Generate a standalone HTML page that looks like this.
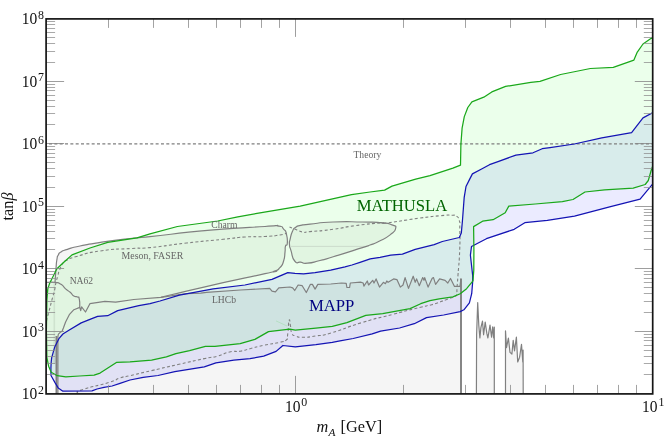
<!DOCTYPE html><html><head><meta charset="utf-8"><title>plot</title>
<style>html,body{margin:0;padding:0;background:#fff}svg{display:block;will-change:transform}text{font-family:"Liberation Serif",serif}</style></head><body>
<svg width="664" height="437" viewBox="0 0 664 437">
<rect width="664" height="437" fill="#fff"/>
<defs><clipPath id="c"><rect x="46.1" y="18.9" width="606.6" height="375.0"/></clipPath></defs>
<g clip-path="url(#c)" fill="none" stroke-linejoin="round" stroke-linecap="butt">
<path d="M57.0,394.0 L57.0,364.0 L46.1,364.0 L46.1,282.4 L55.0,282.4 L56.0,268.7 L56.9,259.6 L58.3,255.0 L61.0,252.0 L67.4,249.4 L80.0,246.0 L100.4,242.4 L130.0,238.5 L150.0,236.6 L210.4,230.2 L265.0,226.5 L278.4,226.1 L283.6,229.1 L286.5,234.3 L287.3,243.2 L285.5,246.2 L285.0,252.1 L283.6,261.0 L279.9,267.7 L273.9,271.4 L265.0,273.7 L205.0,286.8 L160.9,297.3 L186.2,293.7 L200.7,293.1 L206.5,292.3 L240.4,290.0 L269.7,288.4 L272.0,291.1 L275.4,291.8 L278.8,287.8 L290.0,287.0 L292.7,287.8 L294.7,290.5 L298.1,285.0 L302.2,285.7 L306.3,292.5 L310.3,284.4 L312.4,284.4 L315.1,289.1 L317.8,284.4 L330.7,284.0 L341.5,283.0 L346.2,283.4 L346.9,287.5 L349.6,287.5 L350.3,283.0 L360.5,282.1 L363.2,283.0 L363.9,286.1 L367.3,281.0 L368.6,285.0 L372.7,280.3 L374.0,283.0 L376.1,278.9 L379.5,287.1 L383.4,282.3 L385.4,283.7 L386.8,281.0 L388.1,282.3 L393.6,278.9 L396.9,279.6 L400.3,287.1 L403.0,285.0 L405.1,277.6 L408.5,288.4 L413.2,276.2 L415.2,282.3 L416.6,278.9 L419.3,285.7 L422.7,277.6 L424.0,280.3 L424.7,277.6 L428.1,287.1 L432.2,278.3 L433.5,277.6 L435.6,284.4 L439.6,278.9 L445.1,280.3 L447.8,283.0 L450.5,278.5 L454.5,286.4 L460.0,286.4 L460.9,278.9 L461.0,394.0 Z" fill="rgba(128,128,128,0.08)"/>
<path d="M289.5,244.7 C289.2,240.8 289.2,243.3 290.2,238.8 C291.2,234.3 290.8,235.0 292.5,231.3 C294.2,227.6 292.7,229.6 295.4,227.6 C298.1,225.6 295.7,226.5 300.6,225.4 C305.5,224.3 299.1,225.3 310.0,224.2 C320.9,223.1 315.7,222.7 333.2,222.0 C350.7,221.3 346.5,221.8 362.4,222.0 C378.3,222.2 371.1,221.7 381.0,222.7 C390.9,223.7 387.1,223.0 392.0,224.9 C396.9,226.8 396.2,225.2 395.6,228.5 C395.0,231.8 395.6,230.6 390.1,234.9 C384.6,239.2 385.8,237.9 379.1,241.3 C372.4,244.7 375.6,242.9 370.0,245.0 C364.4,247.1 374.7,243.7 362.4,247.6 C350.1,251.5 347.3,252.5 333.2,256.8 C319.1,261.1 328.5,258.4 320.0,260.5 C311.5,262.6 314.1,262.6 307.6,263.2 C301.1,263.8 304.9,262.9 300.6,262.2 C296.3,261.5 297.9,264.9 294.7,261.0 C291.5,257.1 292.7,256.0 291.0,250.6 C289.3,245.2 289.8,248.6 289.5,244.7 Z" fill="rgba(128,128,128,0.08)"/>
<path d="M476.4,394.0 L476.6,335.0 L477.7,302.5 L478.8,325.2 L479.9,338.0 L480.9,327.6 L482.5,321.2 L483.6,334.8 L485.2,322.0 L486.8,333.2 L487.9,338.0 L490.0,325.2 L491.6,337.2 L492.7,326.8 L493.7,338.0 L494.3,327.0 L494.3,394.0 Z" fill="rgba(128,128,128,0.08)"/>
<path d="M505.5,394.0 L505.5,330.8 L506.5,347.6 L508.4,338.0 L510.0,352.4 L511.9,354.0 L513.2,340.4 L514.5,350.8 L516.4,337.2 L517.7,362.0 L519.6,357.2 L521.5,344.4 L522.8,362.0 L523.1,350.0 L523.2,394.0 Z" fill="rgba(128,128,128,0.08)"/>
<path d="M51.2,362.0 L51.7,357.6 L54.6,347.3 L58.9,338.7 L62.9,334.0 L69.3,330.0 L81.2,322.9 L91.2,318.8 L97.6,316.3 L107.7,315.7 L117.7,310.6 L138.8,305.7 L150.0,303.6 L160.0,301.0 L179.4,295.2 L213.2,288.9 L244.9,285.0 L272.0,279.4 L287.8,272.6 L295.0,273.4 L303.6,273.9 L315.0,272.7 L330.7,270.1 L345.0,266.9 L351.9,265.0 L360.0,262.3 L370.2,258.9 L380.0,257.3 L390.8,255.1 L402.4,254.1 L415.2,249.4 L434.2,244.7 L442.3,241.5 L459.3,237.5 L461.3,233.1 L462.4,221.2 L464.2,197.4 L466.0,186.5 L469.7,179.1 L472.4,173.9 L481.6,169.0 L489.5,164.7 L498.7,161.3 L515.9,155.1 L533.0,152.8 L542.2,148.7 L550.0,147.6 L574.3,144.0 L601.8,137.8 L631.6,132.7 L643.0,117.9 L653.0,112.5 L653.0,183.6 L640.1,199.2 L610.6,206.7 L574.5,216.1 L547.3,220.3 L524.8,222.7 L514.2,229.3 L486.4,238.7 L471.5,246.5 L470.4,255.2 L472.7,275.8 L472.6,282.7 L471.7,293.7 L469.4,302.9 L463.9,309.8 L460.2,311.6 L443.7,315.0 L426.5,317.6 L414.3,323.7 L399.6,328.0 L380.6,331.1 L372.2,333.9 L353.2,338.5 L340.0,340.9 L332.3,342.3 L315.9,344.6 L295.3,346.9 L282.9,345.5 L276.1,351.4 L263.7,356.2 L250.0,358.7 L233.9,360.1 L215.9,362.8 L204.3,366.8 L174.8,371.7 L158.0,375.5 L143.2,377.3 L130.0,380.0 L120.0,383.3 L112.1,386.0 L104.0,387.3 L97.0,389.0 L92.0,390.9 L62.9,391.2 L58.2,387.9 L55.0,382.6 L51.0,375.5 L50.9,367.9 L51.2,362.0 Z" fill="rgba(0,0,255,0.08)"/>
<path d="M46.9,357.6 L46.4,330.0 L46.9,300.0 L47.8,288.9 L49.6,283.4 L52.8,277.0 L56.9,268.7 L63.8,262.3 L72.0,254.9 L90.0,248.0 L107.7,242.4 L137.0,237.9 L150.0,233.8 L177.4,226.5 L217.7,221.0 L237.8,216.8 L260.0,212.9 L300.2,206.1 L351.5,194.6 L370.0,192.0 L384.6,190.1 L392.0,186.1 L415.7,179.1 L430.0,175.7 L452.9,168.2 L460.5,165.2 L460.9,144.1 L462.1,128.1 L464.3,116.6 L467.8,107.5 L471.9,101.8 L483.8,97.2 L491.8,91.9 L505.6,86.4 L530.8,82.3 L540.0,81.4 L560.6,74.5 L590.4,68.5 L613.3,67.4 L633.9,60.1 L637.3,52.1 L643.0,44.0 L653.0,37.0 L653.0,165.3 L651.3,170.0 L648.3,180.5 L645.2,184.5 L633.2,188.1 L604.6,189.9 L585.0,192.0 L573.0,199.5 L562.4,201.6 L535.3,204.0 L508.8,206.1 L505.2,212.8 L493.1,219.7 L482.6,221.2 L473.6,226.6 L473.9,250.0 L473.8,270.0 L473.0,280.9 L466.6,288.7 L460.2,293.7 L452.9,296.9 L439.2,298.8 L430.0,300.6 L420.7,303.7 L410.1,308.6 L382.7,313.6 L365.8,315.3 L346.9,322.7 L332.3,326.3 L315.9,328.1 L295.3,330.2 L289.8,329.1 L268.5,331.6 L254.9,339.4 L240.2,343.6 L214.9,346.4 L205.4,346.4 L189.6,350.6 L175.9,353.7 L166.4,356.9 L151.6,360.1 L130.0,361.9 L116.4,362.4 L100.1,373.1 L94.1,375.2 L79.5,376.0 L65.8,376.9 L57.2,375.7 L51.2,372.2 L48.6,366.2 L46.9,357.6 Z" fill="rgba(0,255,0,0.08)"/>
<path d="M54.3,283 L54.3,364" stroke="rgba(90,110,90,0.13)" stroke-width="1.6"/>
<path d="M291,246.4 L367,246.4" stroke="rgba(120,120,120,0.25)" stroke-width="0.8"/>
<path d="M276,320.9 L287,326" stroke="rgba(60,200,60,0.22)" stroke-width="0.8"/>
<path d="M46.1,143.9 L652.8,143.9" stroke="#7f7f7f" stroke-width="1.3" stroke-dasharray="3 2.33" stroke-dashoffset="2.4"/>
<path d="M57.9,394.0 L57.9,336.5 L58.4,334.2 L60.0,332.6 L62.1,331.2 L63.4,328.0 L65.6,322.0 L69.3,314.7 L73.9,309.7 L79.8,307.4 L80.7,310.6 L81.6,306.9 L85.5,312.0 L89.9,303.7 L104.9,301.3 L115.7,302.2 L133.8,299.5 L160.9,297.3 L186.2,293.7 L200.7,293.1 L206.5,292.3 L240.4,290.0 L269.7,288.4 L272.0,291.1 L275.4,291.8 L278.8,287.8 L290.0,287.0 L292.7,287.8 L294.7,290.5 L298.1,285.0 L302.2,285.7 L306.3,292.5 L310.3,284.4 L312.4,284.4 L315.1,289.1 L317.8,284.4 L330.7,284.0 L341.5,283.0 L346.2,283.4 L346.9,287.5 L349.6,287.5 L350.3,283.0 L360.5,282.1 L363.2,283.0 L363.9,286.1 L367.3,281.0 L368.6,285.0 L372.7,280.3 L374.0,283.0 L376.1,278.9 L379.5,287.1 L383.4,282.3 L385.4,283.7 L386.8,281.0 L388.1,282.3 L393.6,278.9 L396.9,279.6 L400.3,287.1 L403.0,285.0 L405.1,277.6 L408.5,288.4 L413.2,276.2 L415.2,282.3 L416.6,278.9 L419.3,285.7 L422.7,277.6 L424.0,280.3 L424.7,277.6 L428.1,287.1 L432.2,278.3 L433.5,277.6 L435.6,284.4 L439.6,278.9 L445.1,280.3 L447.8,283.0 L450.5,278.5 L454.5,286.4 L460.0,286.4 L460.9,278.9" stroke="#808080" stroke-width="1.2"/>
<path d="M476.4,394.0 L476.6,335.0 L477.7,302.5 L478.8,325.2 L479.9,338.0 L480.9,327.6 L482.5,321.2 L483.6,334.8 L485.2,322.0 L486.8,333.2 L487.9,338.0 L490.0,325.2 L491.6,337.2 L492.7,326.8 L493.7,338.0 L494.3,327.0 L494.3,394.0" stroke="#808080" stroke-width="1.2"/>
<path d="M505.5,394.0 L505.5,330.8 L506.5,347.6 L508.4,338.0 L510.0,352.4 L511.9,354.0 L513.2,340.4 L514.5,350.8 L516.4,337.2 L517.7,362.0 L519.6,357.2 L521.5,344.4 L522.8,362.0 L523.1,350.0 L523.2,394.0" stroke="#808080" stroke-width="1.2"/>
<path d="M55.0,282.4 C55.3,277.8 55.4,276.3 56.0,268.7 C56.6,261.1 56.1,264.2 56.9,259.6 C57.7,255.0 56.9,257.5 58.3,255.0 C59.7,252.5 58.0,253.9 61.0,252.0 C64.0,250.1 61.1,251.4 67.4,249.4 C73.7,247.4 69.0,248.3 80.0,246.0 C91.0,243.7 83.7,244.9 100.4,242.4 C117.1,239.9 113.5,240.4 130.0,238.5 C146.5,236.6 123.2,239.4 150.0,236.6 C176.8,233.8 172.1,233.6 210.4,230.2 C248.7,226.8 242.3,227.9 265.0,226.5 C287.7,225.1 272.2,225.2 278.4,226.1 C284.6,227.0 280.9,226.4 283.6,229.1 C286.3,231.8 285.3,229.6 286.5,234.3 C287.7,239.0 287.6,239.2 287.3,243.2 C287.0,247.2 286.3,243.2 285.5,246.2 C284.7,249.2 285.6,247.2 285.0,252.1 C284.4,257.0 285.3,255.8 283.6,261.0 C281.9,266.2 283.1,264.2 279.9,267.7 C276.7,271.2 278.9,269.4 273.9,271.4 C268.9,273.4 288.0,268.6 265.0,273.7 C242.0,278.8 239.7,278.9 205.0,286.8 C170.3,294.7 175.6,293.8 160.9,297.3" stroke="#808080" stroke-width="1.2"/>
<path d="M46.9,282.4 C49.6,282.4 50.3,281.8 55.0,282.4 C59.7,283.0 57.5,282.1 61.0,284.3 C64.5,286.5 62.5,286.2 65.6,288.9 C68.7,291.6 67.4,289.9 70.2,292.3 C73.0,294.7 71.5,294.5 73.9,296.0 C76.3,297.5 75.7,295.9 77.5,296.9 C79.3,297.9 78.5,295.6 79.3,299.1 C80.1,302.6 79.6,304.6 79.8,307.4" stroke="#808080" stroke-width="1.2"/>
<path d="M289.5,244.7 C289.2,240.8 289.2,243.3 290.2,238.8 C291.2,234.3 290.8,235.0 292.5,231.3 C294.2,227.6 292.7,229.6 295.4,227.6 C298.1,225.6 295.7,226.5 300.6,225.4 C305.5,224.3 299.1,225.3 310.0,224.2 C320.9,223.1 315.7,222.7 333.2,222.0 C350.7,221.3 346.5,221.8 362.4,222.0 C378.3,222.2 371.1,221.7 381.0,222.7 C390.9,223.7 387.1,223.0 392.0,224.9 C396.9,226.8 396.2,225.2 395.6,228.5 C395.0,231.8 395.6,230.6 390.1,234.9 C384.6,239.2 385.8,237.9 379.1,241.3 C372.4,244.7 375.6,242.9 370.0,245.0 C364.4,247.1 374.7,243.7 362.4,247.6 C350.1,251.5 347.3,252.5 333.2,256.8 C319.1,261.1 328.5,258.4 320.0,260.5 C311.5,262.6 314.1,262.6 307.6,263.2 C301.1,263.8 304.9,262.9 300.6,262.2 C296.3,261.5 297.9,264.9 294.7,261.0 C291.5,257.1 292.7,256.0 291.0,250.6 C289.3,245.2 289.8,248.6 289.5,244.7 Z" stroke="#808080" stroke-width="1.2"/>
<path d="M56.4,336 L56.4,394" stroke="#808080" stroke-width="1.8"/>
<path d="M461,278.5 L461,394" stroke="#808080" stroke-width="1.9"/>
<path d="M46.5,321.0 C46.8,319.8 46.4,320.7 47.3,317.4 C48.2,314.1 47.6,316.8 49.1,311.0 C50.6,305.2 50.1,307.0 51.9,300.0 C53.7,293.0 53.2,295.9 54.6,290.0 C56.0,284.1 54.9,287.1 56.0,282.4 C57.1,277.7 56.6,280.3 57.8,276.0 C59.0,271.7 57.7,274.3 59.7,269.6 C61.7,264.9 61.2,265.2 63.8,262.0 C66.4,258.8 63.1,261.8 67.4,260.0 C71.7,258.2 65.7,259.5 76.6,256.5 C87.5,253.5 81.7,253.7 100.0,251.0 C118.3,248.3 114.8,249.6 131.5,248.5 C148.2,247.4 131.6,249.4 150.0,247.6 C168.4,245.8 162.2,245.8 186.6,243.0 C211.0,240.2 203.7,241.3 223.2,239.3 C242.7,237.3 231.1,237.9 245.0,237.0 C258.9,236.1 253.4,237.2 265.0,236.5 C276.6,235.8 272.7,236.1 279.9,235.0 C287.1,233.9 284.3,233.7 286.5,233.1" stroke="#808080" stroke-width="1.1" stroke-dasharray="3 2.3"/>
<path d="M289.5,226.9 C290.7,227.4 290.7,227.4 293.2,228.4 C295.7,229.4 293.4,228.7 296.9,229.9 C300.4,231.1 299.2,231.5 303.6,232.1 C308.0,232.7 300.1,232.5 310.0,231.6 C319.9,230.7 318.2,231.3 333.2,229.3 C348.2,227.3 339.4,227.8 355.0,225.7 C370.6,223.6 369.5,223.9 380.0,223.0 C390.5,222.1 373.4,224.6 386.5,223.0 C399.6,221.4 401.3,220.6 419.2,218.2 C437.1,215.8 429.4,216.7 440.3,215.7 C451.2,214.7 446.6,215.1 451.9,215.2 C457.2,215.3 453.6,214.2 456.1,216.0 C458.6,217.8 458.1,216.2 459.3,220.6 C460.5,225.0 459.7,219.3 459.8,229.1 C459.9,238.9 460.3,234.7 459.7,250.0 C459.1,265.3 458.9,262.3 458.0,275.0 C457.1,287.7 457.4,281.8 457.0,288.0 C456.6,294.2 457.5,290.7 456.7,293.5 C455.9,296.3 457.8,294.6 454.7,296.5 C451.6,298.4 455.0,296.5 447.4,299.2 C439.8,301.9 440.7,302.0 431.8,304.7 C422.9,307.4 433.5,304.0 420.7,307.2 C407.9,310.4 413.0,309.0 393.3,314.2 C373.6,319.4 382.4,316.4 361.6,322.7 C340.8,329.0 346.2,328.6 331.0,333.0 C315.8,337.4 325.1,334.5 315.9,335.9 C306.7,337.3 310.4,337.3 303.5,337.3 C296.6,337.3 299.2,337.4 295.3,335.9 C291.4,334.4 293.4,336.2 291.8,332.9 C290.2,329.6 291.4,330.1 290.5,326.0 C289.6,321.9 290.0,317.8 289.1,320.6 C288.2,323.4 288.6,327.9 287.7,334.3 C286.8,340.7 289.4,337.1 286.4,339.8 C283.4,342.5 286.4,340.7 278.8,342.5 C271.2,344.3 273.3,343.2 263.7,345.3 C254.1,347.4 257.8,346.7 250.0,348.7 C242.2,350.7 247.0,350.1 240.2,351.2 C233.4,352.3 237.3,350.3 229.6,352.0 C221.9,353.7 225.4,354.1 217.0,356.3 C208.6,358.5 217.0,355.9 204.3,358.6 C191.6,361.3 196.6,360.3 179.0,364.3 C161.4,368.3 167.9,366.8 151.6,370.6 C135.3,374.4 140.5,373.2 130.0,375.7 C119.5,378.2 127.1,375.7 120.0,378.0 C112.9,380.3 121.0,378.7 108.7,382.5 C96.4,386.3 93.6,386.0 83.0,389.4 C72.4,392.8 79.7,391.3 77.0,392.8 C74.3,394.3 75.7,393.6 75.0,394.0" stroke="#808080" stroke-width="1.1" stroke-dasharray="3 2.3"/>
<path d="M51.2,362.0 L51.7,357.6 L54.6,347.3 L58.9,338.7 L62.9,334.0 L69.3,330.0 L81.2,322.9 L91.2,318.8 L97.6,316.3 L107.7,315.7 L117.7,310.6 L138.8,305.7 L150.0,303.6 L160.0,301.0 L179.4,295.2 L213.2,288.9 L244.9,285.0 L272.0,279.4 L287.8,272.6 L295.0,273.4 L303.6,273.9 L315.0,272.7 L330.7,270.1 L345.0,266.9 L351.9,265.0 L360.0,262.3 L370.2,258.9 L380.0,257.3 L390.8,255.1 L402.4,254.1 L415.2,249.4 L434.2,244.7 L442.3,241.5 L459.3,237.5 L461.3,233.1 L462.4,221.2 L464.2,197.4 L466.0,186.5 L469.7,179.1 L472.4,173.9 L481.6,169.0 L489.5,164.7 L498.7,161.3 L515.9,155.1 L533.0,152.8 L542.2,148.7 L550.0,147.6 L574.3,144.0 L601.8,137.8 L631.6,132.7 L643.0,117.9 L653.0,112.5 L653.0,183.6 L640.1,199.2 L610.6,206.7 L574.5,216.1 L547.3,220.3 L524.8,222.7 L514.2,229.3 L486.4,238.7 L471.5,246.5 L470.4,255.2 L472.7,275.8 L472.6,282.7 L471.7,293.7 L469.4,302.9 L463.9,309.8 L460.2,311.6 L443.7,315.0 L426.5,317.6 L414.3,323.7 L399.6,328.0 L380.6,331.1 L372.2,333.9 L353.2,338.5 L340.0,340.9 L332.3,342.3 L315.9,344.6 L295.3,346.9 L282.9,345.5 L276.1,351.4 L263.7,356.2 L250.0,358.7 L233.9,360.1 L215.9,362.8 L204.3,366.8 L174.8,371.7 L158.0,375.5 L143.2,377.3 L130.0,380.0 L120.0,383.3 L112.1,386.0 L104.0,387.3 L97.0,389.0 L92.0,390.9 L62.9,391.2 L58.2,387.9 L55.0,382.6 L51.0,375.5 L50.9,367.9 L51.2,362.0 Z" stroke="#1414b4" stroke-width="1.25"/>
<path d="M46.9,357.6 L46.4,330.0 L46.9,300.0 L47.8,288.9 L49.6,283.4 L52.8,277.0 L56.9,268.7 L63.8,262.3 L72.0,254.9 L90.0,248.0 L107.7,242.4 L137.0,237.9 L150.0,233.8 L177.4,226.5 L217.7,221.0 L237.8,216.8 L260.0,212.9 L300.2,206.1 L351.5,194.6 L370.0,192.0 L384.6,190.1 L392.0,186.1 L415.7,179.1 L430.0,175.7 L452.9,168.2 L460.5,165.2 L460.9,144.1 L462.1,128.1 L464.3,116.6 L467.8,107.5 L471.9,101.8 L483.8,97.2 L491.8,91.9 L505.6,86.4 L530.8,82.3 L540.0,81.4 L560.6,74.5 L590.4,68.5 L613.3,67.4 L633.9,60.1 L637.3,52.1 L643.0,44.0 L653.0,37.0 L653.0,165.3 L651.3,170.0 L648.3,180.5 L645.2,184.5 L633.2,188.1 L604.6,189.9 L585.0,192.0 L573.0,199.5 L562.4,201.6 L535.3,204.0 L508.8,206.1 L505.2,212.8 L493.1,219.7 L482.6,221.2 L473.6,226.6 L473.9,250.0 L473.8,270.0 L473.0,280.9 L466.6,288.7 L460.2,293.7 L452.9,296.9 L439.2,298.8 L430.0,300.6 L420.7,303.7 L410.1,308.6 L382.7,313.6 L365.8,315.3 L346.9,322.7 L332.3,326.3 L315.9,328.1 L295.3,330.2 L289.8,329.1 L268.5,331.6 L254.9,339.4 L240.2,343.6 L214.9,346.4 L205.4,346.4 L189.6,350.6 L175.9,353.7 L166.4,356.9 L151.6,360.1 L130.0,361.9 L116.4,362.4 L100.1,373.1 L94.1,375.2 L79.5,376.0 L65.8,376.9 L57.2,375.7 L51.2,372.2 L48.6,366.2 L46.9,357.6 Z" stroke="#1aa81a" stroke-width="1.25"/>
</g>
<path d="M46.1,374.5 h9 M652.8,374.5 h-9" stroke="#8c8c8c" stroke-width="0.75"/>
<path d="M46.1,363.5 h9 M652.8,363.5 h-9" stroke="#8c8c8c" stroke-width="0.75"/>
<path d="M46.1,356.5 h9 M652.8,356.5 h-9" stroke="#8c8c8c" stroke-width="0.75"/>
<path d="M46.1,350.5 h9 M652.8,350.5 h-9" stroke="#8c8c8c" stroke-width="0.75"/>
<path d="M46.1,345.5 h9 M652.8,345.5 h-9" stroke="#8c8c8c" stroke-width="0.75"/>
<path d="M46.1,340.5 h9 M652.8,340.5 h-9" stroke="#8c8c8c" stroke-width="0.75"/>
<path d="M46.1,337.5 h9 M652.8,337.5 h-9" stroke="#8c8c8c" stroke-width="0.75"/>
<path d="M46.1,334.5 h9 M652.8,334.5 h-9" stroke="#8c8c8c" stroke-width="0.75"/>
<path d="M46.1,331.5 h18 M652.8,331.5 h-18" stroke="#858585" stroke-width="0.8"/>
<path d="M46.1,312.5 h9 M652.8,312.5 h-9" stroke="#8c8c8c" stroke-width="0.75"/>
<path d="M46.1,301.5 h9 M652.8,301.5 h-9" stroke="#8c8c8c" stroke-width="0.75"/>
<path d="M46.1,293.5 h9 M652.8,293.5 h-9" stroke="#8c8c8c" stroke-width="0.75"/>
<path d="M46.1,287.5 h9 M652.8,287.5 h-9" stroke="#8c8c8c" stroke-width="0.75"/>
<path d="M46.1,282.5 h9 M652.8,282.5 h-9" stroke="#8c8c8c" stroke-width="0.75"/>
<path d="M46.1,278.5 h9 M652.8,278.5 h-9" stroke="#8c8c8c" stroke-width="0.75"/>
<path d="M46.1,274.5 h9 M652.8,274.5 h-9" stroke="#8c8c8c" stroke-width="0.75"/>
<path d="M46.1,271.5 h9 M652.8,271.5 h-9" stroke="#8c8c8c" stroke-width="0.75"/>
<path d="M46.1,268.5 h18 M652.8,268.5 h-18" stroke="#858585" stroke-width="0.8"/>
<path d="M46.1,249.5 h9 M652.8,249.5 h-9" stroke="#8c8c8c" stroke-width="0.75"/>
<path d="M46.1,238.5 h9 M652.8,238.5 h-9" stroke="#8c8c8c" stroke-width="0.75"/>
<path d="M46.1,231.5 h9 M652.8,231.5 h-9" stroke="#8c8c8c" stroke-width="0.75"/>
<path d="M46.1,225.5 h9 M652.8,225.5 h-9" stroke="#8c8c8c" stroke-width="0.75"/>
<path d="M46.1,220.5 h9 M652.8,220.5 h-9" stroke="#8c8c8c" stroke-width="0.75"/>
<path d="M46.1,215.5 h9 M652.8,215.5 h-9" stroke="#8c8c8c" stroke-width="0.75"/>
<path d="M46.1,212.5 h9 M652.8,212.5 h-9" stroke="#8c8c8c" stroke-width="0.75"/>
<path d="M46.1,209.5 h9 M652.8,209.5 h-9" stroke="#8c8c8c" stroke-width="0.75"/>
<path d="M46.1,206.5 h18 M652.8,206.5 h-18" stroke="#858585" stroke-width="0.8"/>
<path d="M46.1,187.5 h9 M652.8,187.5 h-9" stroke="#8c8c8c" stroke-width="0.75"/>
<path d="M46.1,176.5 h9 M652.8,176.5 h-9" stroke="#8c8c8c" stroke-width="0.75"/>
<path d="M46.1,168.5 h9 M652.8,168.5 h-9" stroke="#8c8c8c" stroke-width="0.75"/>
<path d="M46.1,162.5 h9 M652.8,162.5 h-9" stroke="#8c8c8c" stroke-width="0.75"/>
<path d="M46.1,157.5 h9 M652.8,157.5 h-9" stroke="#8c8c8c" stroke-width="0.75"/>
<path d="M46.1,153.5 h9 M652.8,153.5 h-9" stroke="#8c8c8c" stroke-width="0.75"/>
<path d="M46.1,149.5 h9 M652.8,149.5 h-9" stroke="#8c8c8c" stroke-width="0.75"/>
<path d="M46.1,146.5 h9 M652.8,146.5 h-9" stroke="#8c8c8c" stroke-width="0.75"/>
<path d="M46.1,143.5 h18 M652.8,143.5 h-18" stroke="#858585" stroke-width="0.8"/>
<path d="M46.1,124.5 h9 M652.8,124.5 h-9" stroke="#8c8c8c" stroke-width="0.75"/>
<path d="M46.1,113.5 h9 M652.8,113.5 h-9" stroke="#8c8c8c" stroke-width="0.75"/>
<path d="M46.1,106.5 h9 M652.8,106.5 h-9" stroke="#8c8c8c" stroke-width="0.75"/>
<path d="M46.1,100.5 h9 M652.8,100.5 h-9" stroke="#8c8c8c" stroke-width="0.75"/>
<path d="M46.1,95.5 h9 M652.8,95.5 h-9" stroke="#8c8c8c" stroke-width="0.75"/>
<path d="M46.1,90.5 h9 M652.8,90.5 h-9" stroke="#8c8c8c" stroke-width="0.75"/>
<path d="M46.1,87.5 h9 M652.8,87.5 h-9" stroke="#8c8c8c" stroke-width="0.75"/>
<path d="M46.1,84.5 h9 M652.8,84.5 h-9" stroke="#8c8c8c" stroke-width="0.75"/>
<path d="M46.1,81.5 h18 M652.8,81.5 h-18" stroke="#858585" stroke-width="0.8"/>
<path d="M46.1,62.5 h9 M652.8,62.5 h-9" stroke="#8c8c8c" stroke-width="0.75"/>
<path d="M46.1,51.5 h9 M652.8,51.5 h-9" stroke="#8c8c8c" stroke-width="0.75"/>
<path d="M46.1,43.5 h9 M652.8,43.5 h-9" stroke="#8c8c8c" stroke-width="0.75"/>
<path d="M46.1,37.5 h9 M652.8,37.5 h-9" stroke="#8c8c8c" stroke-width="0.75"/>
<path d="M46.1,32.5 h9 M652.8,32.5 h-9" stroke="#8c8c8c" stroke-width="0.75"/>
<path d="M46.1,28.5 h9 M652.8,28.5 h-9" stroke="#8c8c8c" stroke-width="0.75"/>
<path d="M46.1,24.5 h9 M652.8,24.5 h-9" stroke="#8c8c8c" stroke-width="0.75"/>
<path d="M46.1,21.5 h9 M652.8,21.5 h-9" stroke="#8c8c8c" stroke-width="0.75"/>
<path d="M108.5,18.9 v9 M108.5,393.9 v-9" stroke="#8c8c8c" stroke-width="0.8"/>
<path d="M153.5,18.9 v9 M153.5,393.9 v-9" stroke="#8c8c8c" stroke-width="0.8"/>
<path d="M188.5,18.9 v9 M188.5,393.9 v-9" stroke="#8c8c8c" stroke-width="0.8"/>
<path d="M216.5,18.9 v9 M216.5,393.9 v-9" stroke="#8c8c8c" stroke-width="0.8"/>
<path d="M240.5,18.9 v9 M240.5,393.9 v-9" stroke="#8c8c8c" stroke-width="0.8"/>
<path d="M261.5,18.9 v9 M261.5,393.9 v-9" stroke="#8c8c8c" stroke-width="0.8"/>
<path d="M279.5,18.9 v9 M279.5,393.9 v-9" stroke="#8c8c8c" stroke-width="0.8"/>
<path d="M403.5,18.9 v9 M403.5,393.9 v-9" stroke="#8c8c8c" stroke-width="0.8"/>
<path d="M465.5,18.9 v9 M465.5,393.9 v-9" stroke="#8c8c8c" stroke-width="0.8"/>
<path d="M510.5,18.9 v9 M510.5,393.9 v-9" stroke="#8c8c8c" stroke-width="0.8"/>
<path d="M545.5,18.9 v9 M545.5,393.9 v-9" stroke="#8c8c8c" stroke-width="0.8"/>
<path d="M573.5,18.9 v9 M573.5,393.9 v-9" stroke="#8c8c8c" stroke-width="0.8"/>
<path d="M597.5,18.9 v9 M597.5,393.9 v-9" stroke="#8c8c8c" stroke-width="0.8"/>
<path d="M618.5,18.9 v9 M618.5,393.9 v-9" stroke="#8c8c8c" stroke-width="0.8"/>
<path d="M636.5,18.9 v9 M636.5,393.9 v-9" stroke="#8c8c8c" stroke-width="0.8"/>
<path d="M295.5,18.9 v18 M295.5,393.9 v-18" stroke="#858585" stroke-width="0.8"/>
<rect x="46.1" y="18.9" width="606.6" height="375.0" fill="none" stroke="#151515" stroke-width="1.7"/>
<text x="37.2" y="399.4" font-size="16.6" text-anchor="end" textLength="15.5" lengthAdjust="spacingAndGlyphs" fill="#111">10</text><text x="38" y="393.6" font-size="11.9" fill="#111">2</text>
<text x="37.2" y="336.9" font-size="16.6" text-anchor="end" textLength="15.5" lengthAdjust="spacingAndGlyphs" fill="#111">10</text><text x="38" y="331.1" font-size="11.9" fill="#111">3</text>
<text x="37.2" y="274.4" font-size="16.6" text-anchor="end" textLength="15.5" lengthAdjust="spacingAndGlyphs" fill="#111">10</text><text x="38" y="268.6" font-size="11.9" fill="#111">4</text>
<text x="37.2" y="211.9" font-size="16.6" text-anchor="end" textLength="15.5" lengthAdjust="spacingAndGlyphs" fill="#111">10</text><text x="38" y="206.1" font-size="11.9" fill="#111">5</text>
<text x="37.2" y="149.4" font-size="16.6" text-anchor="end" textLength="15.5" lengthAdjust="spacingAndGlyphs" fill="#111">10</text><text x="38" y="143.6" font-size="11.9" fill="#111">6</text>
<text x="37.2" y="86.9" font-size="16.6" text-anchor="end" textLength="15.5" lengthAdjust="spacingAndGlyphs" fill="#111">10</text><text x="38" y="81.1" font-size="11.9" fill="#111">7</text>
<text x="37.2" y="24.4" font-size="16.6" text-anchor="end" textLength="15.5" lengthAdjust="spacingAndGlyphs" fill="#111">10</text><text x="38" y="18.6" font-size="11.9" fill="#111">8</text>
<text x="300.5" y="411.5" font-size="16.6" text-anchor="end" textLength="15.5" lengthAdjust="spacingAndGlyphs" fill="#111">10</text><text x="301.3" y="405.6" font-size="11.9" fill="#111">0</text>
<text x="657.6" y="411.5" font-size="16.6" text-anchor="end" textLength="15.5" lengthAdjust="spacingAndGlyphs" fill="#111">10</text><text x="658.4" y="405.6" font-size="11.9" fill="#111">1</text>
<text x="316.5" y="432.4" font-size="16.3" font-style="italic" fill="#111">m</text><text x="328.6" y="435.5" font-size="11.4" font-style="italic" fill="#111">A</text><text x="340.5" y="432.4" font-size="16.3" fill="#111">[GeV]</text>
<text transform="translate(12.8,220.4) rotate(-90)" font-size="16.2" fill="#111">tan<tspan font-style="italic">β</tspan></text>
<text x="356.7" y="211" font-size="16" textLength="90.6" lengthAdjust="spacingAndGlyphs" fill="#006400">MATHUSLA</text>
<text x="308.9" y="311.1" font-size="16" textLength="45.4" lengthAdjust="spacingAndGlyphs" fill="#000080">MAPP</text>
<text x="353.5" y="158" font-size="9.6" fill="#666">Theory</text>
<text x="211.3" y="227.8" font-size="9.6" fill="#666">Charm</text>
<text x="121.6" y="258.7" font-size="9.85" fill="#666">Meson, FASER</text>
<text x="69.7" y="283.6" font-size="9.6" fill="#666">NA62</text>
<text x="212" y="302.9" font-size="9.6" fill="#666">LHCb</text>
</svg></body></html>
